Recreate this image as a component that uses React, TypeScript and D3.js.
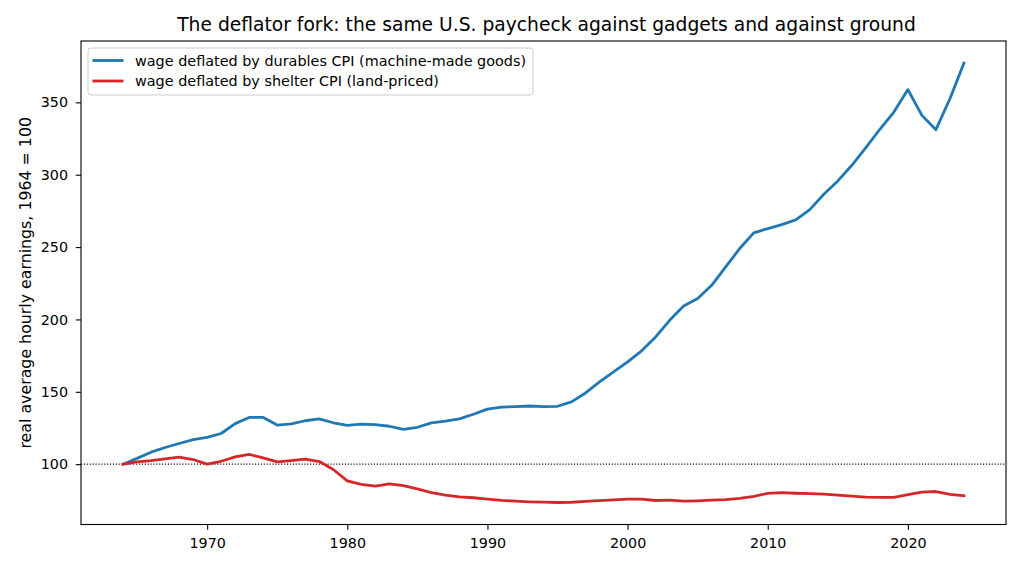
import { useRef, useEffect } from "react";
import * as d3 from "d3";

const years: number[] = d3.range(1964, 2025);

// wage deflated by durables CPI, 1964 = 100
const durables: number[] = [
  100, 104, 108.3, 111.5, 114.3, 117, 118.5, 121.2, 128, 132.3,
  132.3, 127, 127.8, 130, 131.3, 128.6, 126.8, 127.6, 127.3, 126.2,
  124, 125.5, 128.5, 129.7, 131.3, 134.5, 138, 139.4, 139.8, 140.2,
  139.8, 140, 143, 149.2, 156.8, 163.8, 170.7, 178.3, 187.9, 199.4,
  209.3, 214.4, 223.6, 236.3, 249, 259.8, 262.8, 265.5, 268.8, 275.9,
  286.5, 295.7, 306.5, 318.7, 331.4, 343.3, 358.8, 341, 331.1, 352.5,
  377.2,
];

// wage deflated by shelter CPI, 1964 = 100
const shelter: number[] = [
  100, 101.6, 102.5, 103.7, 104.8, 103.2, 100, 102, 105, 106.7,
  104.4, 101.6, 102.5, 103.5, 101.8, 96.3, 88.5, 86, 84.8, 86.4,
  85.2, 82.9, 80.4, 78.6, 77.4, 76.8, 75.9, 75, 74.4, 74,
  73.8, 73.5, 73.7, 74.3, 74.8, 75.4, 75.8, 75.8, 74.9, 75.2,
  74.5, 74.7, 75.1, 75.5, 76.4, 77.8, 79.8, 80.4, 79.9, 79.6,
  79.3, 78.6, 77.9, 77.2, 77, 77.1, 79, 80.7, 81.1, 79.1,
  78.2,
];

const xTicks = [1970, 1980, 1990, 2000, 2010, 2020];
const yTicks = [100, 150, 200, 250, 300, 350];

const seriesLabels = [
  "wage deflated by durables CPI (machine-made goods)",
  "wage deflated by shelter CPI (land-priced)",
];
const seriesColors = ["#1f77b4", "#d62728"];

const title =
  "The deflator fork: the same U.S. paycheck against gadgets and against ground";
const yLabel = "real average hourly earnings, 1964 = 100";

const FONT = "DejaVu Sans, sans-serif";

export default function App() {
  const svgRef = useRef<SVGSVGElement>(null);
  const width = 1024;
  const height = 569;

  useEffect(() => {
    if (!svgRef.current) return;
    const svg = d3.select(svgRef.current);
    svg.selectAll("*").remove();

    const margin = { top: 41, right: 18, bottom: 44.5, left: 81 };
    const w = width - margin.left - margin.right;
    const h = height - margin.top - margin.bottom;

    const g = svg
      .append("g")
      .attr("transform", `translate(${margin.left},${margin.top})`);

    // matplotlib-like 5% margins
    const xMin = d3.min(years)!;
    const xMax = d3.max(years)!;
    const xPad = (xMax - xMin) * 0.05;
    const x = d3
      .scaleLinear()
      .domain([xMin - xPad, xMax + xPad])
      .range([0, w]);

    const all = durables.concat(shelter);
    const yMin = d3.min(all)!;
    const yMax = d3.max(all)!;
    const yPad = (yMax - yMin) * 0.05;
    const y = d3
      .scaleLinear()
      .domain([yMin - yPad, yMax + yPad])
      .range([h, 0]);

    // reference line at 100
    g.append("line")
      .attr("x1", 0)
      .attr("x2", w)
      .attr("y1", y(100))
      .attr("y2", y(100))
      .attr("stroke", "#000")
      .attr("stroke-width", 1.1)
      .attr("stroke-dasharray", "1.1,1.8");

    const line = d3
      .line<number>()
      .x((_, i) => x(years[i]))
      .y((d) => y(d));

    [durables, shelter].forEach((vals, i) => {
      g.append("path")
        .datum(vals)
        .attr("fill", "none")
        .attr("stroke", seriesColors[i])
        .attr("stroke-width", 2.8)
        .attr("stroke-linejoin", "round")
        .attr("stroke-linecap", "square")
        .attr("d", line);
    });

    const xAxis = g
      .append("g")
      .attr("transform", `translate(0,${h})`)
      .call(
        d3
          .axisBottom(x)
          .tickValues(xTicks)
          .tickFormat(d3.format("d"))
          .tickSize(5.2)
          .tickPadding(7.8)
      );
    const yAxis = g.append("g").call(
      d3
        .axisLeft(y)
        .tickValues(yTicks)
        .tickFormat(d3.format("d"))
        .tickSize(5.2)
        .tickPadding(7.8)
    );
    [xAxis, yAxis].forEach((ax) => {
      ax.select(".domain").remove();
      ax.selectAll(".tick line").attr("stroke", "#000").attr("stroke-width", 1.1);
      ax.selectAll(".tick text")
        .attr("fill", "#000")
        .attr("font-family", FONT)
        .attr("font-size", "14.3px");
    });

    // frame
    g.append("rect")
      .attr("width", w)
      .attr("height", h)
      .attr("fill", "none")
      .attr("stroke", "#000")
      .attr("stroke-width", 1.1);

    // legend
    const legend = g.append("g").attr("transform", "translate(7,7)");
    legend
      .append("rect")
      .attr("width", 445)
      .attr("height", 47)
      .attr("rx", 3)
      .attr("fill", "#fff")
      .attr("fill-opacity", 0.8)
      .attr("stroke", "#cccccc")
      .attr("stroke-width", 1);
    seriesLabels.forEach((label, i) => {
      const yy = 12.5 + i * 20.5;
      legend
        .append("line")
        .attr("x1", 4.5)
        .attr("x2", 35.5)
        .attr("y1", yy)
        .attr("y2", yy)
        .attr("stroke", seriesColors[i])
        .attr("stroke-width", 2.8);
      legend
        .append("text")
        .attr("x", 47)
        .attr("y", yy)
        .attr("dy", "0.35em")
        .attr("font-family", FONT)
        .attr("font-size", "14.4px")
        .attr("fill", "#000")
        .text(label);
    });

    svg
      .append("text")
      .attr("x", margin.left + w / 2 + 3)
      .attr("y", 31)
      .attr("text-anchor", "middle")
      .attr("font-family", FONT)
      .attr("font-size", "18.7px")
      .attr("fill", "#000")
      .text(title);

    svg
      .append("text")
      .attr("transform", `translate(30.5,${margin.top + h / 2}) rotate(-90)`)
      .attr("text-anchor", "middle")
      .attr("font-family", FONT)
      .attr("font-size", "15.8px")
      .attr("fill", "#000")
      .text(yLabel);
  }, []);

  return (
    <svg
      ref={svgRef}
      width={width}
      height={height}
      style={{ position: "absolute", left: 0, top: 0, background: "#fff" }}
    />
  );
}
